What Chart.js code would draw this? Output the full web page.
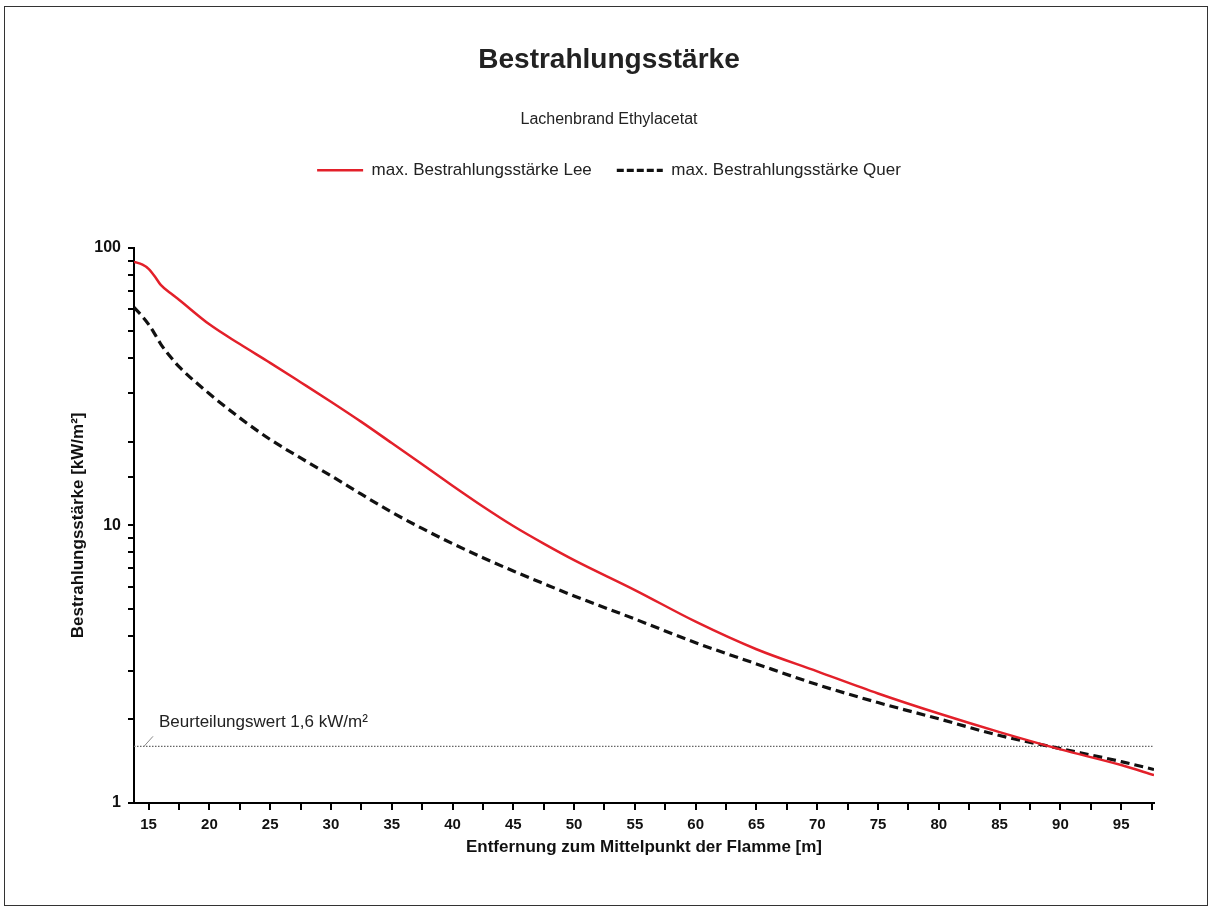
<!DOCTYPE html>
<html lang="de">
<head>
    <meta charset="UTF-8">
    <title>Bestrahlungsstärke</title>
    <style>
        body {
            margin: 0;
            background-color: #fff;
            font-family: "Liberation Sans", Arial, sans-serif;
        }
        .rahmen {
            position: absolute;
            left: 4px;
            top: 6px;
            width: 1202px;
            height: 898px;
            border: 1.5px solid #333;
            pointer-events: none;
        }
        .chart-box {
            position: absolute;
            left: 0;
            top: 0;
            width: 1213px;
            height: 911px;
        }
    </style>
    <script src="https://cdn.jsdelivr.net/npm/chart.js"></script>
</head>
<body>
    <div class="chart-box">
        <canvas id="grafik" width="1213" height="911"></canvas>
    </div>
    <div class="rahmen"></div>

    <script>
        // Entfernung [m]
        const entfernung = [13.8, 14.5, 15, 15.5, 16, 17, 17.5, 20, 22.5, 25, 27.5, 30, 32.5, 35, 37.5,
            40, 42.5, 45, 47.5, 50, 55, 60, 65, 70, 75, 80, 85, 90, 95, 97.7];
        // max. Bestrahlungsstärke Lee [kW/m²]
        const werteLee = [89, 87, 84, 79, 73.5, 67.6, 65, 53, 45, 38.5, 32.8, 27.9, 23.6, 19.8, 16.6,
            13.9, 11.7, 9.95, 8.6, 7.5, 5.85, 4.5, 3.58, 2.98, 2.48, 2.1, 1.8, 1.56, 1.37, 1.26];
        // max. Bestrahlungsstärke Quer [kW/m²]
        const werteQuer = [61, 56.5, 53, 49, 45, 39.5, 37.3, 29.8, 24.4, 20.4, 17.5, 15.1, 12.95, 11.15, 9.75,
            8.6, 7.65, 6.85, 6.17, 5.57, 4.6, 3.78, 3.17, 2.67, 2.3, 2.01, 1.75, 1.57, 1.41, 1.32];
        const beurteilungswert = 1.6;
        const xTicks = [15, 17.5, 20, 22.5, 25, 27.5, 30, 32.5, 35, 37.5, 40, 42.5, 45, 47.5, 50, 52.5,
            55, 57.5, 60, 62.5, 65, 67.5, 70, 72.5, 75, 77.5, 80, 82.5, 85, 87.5, 90, 92.5, 95, 97.5];
        const yLabels = [1, 10, 100];

        const schrift = "'Liberation Sans', Arial, sans-serif";

        const punkte = werte => entfernung.map((x, i) => ({ x: x, y: werte[i] }));

        // Abstand zwischen Legende und Diagramm
        const legendenAbstand = {
            id: 'legendenAbstand',
            beforeInit(chart) {
                const fit = chart.legend.fit;
                chart.legend.fit = function () {
                    fit.bind(chart.legend)();
                    this.height += 59;
                };
            }
        };

        // Beschriftung der Beurteilungslinie
        const beurteilungsText = {
            id: 'beurteilungsText',
            afterDatasetsDraw(chart) {
                const c = chart.ctx;
                const xs = chart.scales.x;
                const ys = chart.scales.y;
                const px = xs.getPixelForValue(xs.min);
                const py = ys.getPixelForValue(beurteilungswert);
                c.save();
                c.strokeStyle = '#888';
                c.lineWidth = 1;
                c.beginPath();
                c.moveTo(px + 10, py);
                c.lineTo(px + 19, py - 10);
                c.stroke();
                c.fillStyle = '#222';
                c.font = '17px ' + schrift;
                c.textBaseline = 'alphabetic';
                c.fillText('Beurteilungswert 1,6 kW/m²', px + 25, py - 19);
                c.restore();
            }
        };

        const ctx = document.getElementById('grafik').getContext('2d');
        new Chart(ctx, {
            type: 'line',
            data: {
                datasets: [
                    {
                        label: 'max. Bestrahlungsstärke Lee',
                        data: punkte(werteLee),
                        borderColor: '#e3202a',
                        backgroundColor: '#e3202a',
                        borderWidth: 2.5,
                        pointRadius: 0,
                        cubicInterpolationMode: 'monotone'
                    },
                    {
                        label: 'max. Bestrahlungsstärke Quer',
                        data: punkte(werteQuer),
                        borderColor: '#111',
                        backgroundColor: '#111',
                        borderWidth: 3.2,
                        borderDash: [9, 5],
                        pointRadius: 0,
                        cubicInterpolationMode: 'monotone'
                    },
                    {
                        label: 'Beurteilungswert',
                        data: [{ x: entfernung[0], y: beurteilungswert }, { x: entfernung[entfernung.length - 1], y: beurteilungswert }],
                        borderColor: '#666',
                        borderWidth: 1.2,
                        borderDash: [1.5, 1.5],
                        pointRadius: 0
                    }
                ]
            },
            options: {
                responsive: false,
                animation: false,
                layout: { padding: { top: 36, left: 64, right: 59, bottom: 48 } },
                plugins: {
                    title: {
                        display: true,
                        text: 'Bestrahlungsstärke',
                        color: '#222',
                        font: { family: schrift, size: 28, weight: 'bold' },
                        padding: { top: 7, bottom: 20 }
                    },
                    subtitle: {
                        display: true,
                        text: 'Lachenbrand Ethylacetat',
                        color: '#222',
                        font: { family: schrift, size: 16 },
                        padding: { top: 13, bottom: 8 }
                    },
                    legend: {
                        labels: {
                            usePointStyle: true,
                            pointStyle: 'line',
                            pointStyleWidth: 46,
                            color: '#222',
                            padding: 25,
                            font: { family: schrift, size: 17 },
                            generateLabels: chart => {
                                const items = Chart.defaults.plugins.legend.labels.generateLabels(chart);
                                return items.filter(item => item.datasetIndex < 2).map(item => {
                                    const ds = chart.data.datasets[item.datasetIndex];
                                    item.lineDash = item.datasetIndex === 1 ? [7, 3] : [];
                                    item.lineWidth = ds.borderWidth;
                                    item.strokeStyle = ds.borderColor;
                                    return item;
                                });
                            }
                        }
                    },
                    tooltip: { enabled: false }
                },
                scales: {
                    x: {
                        type: 'linear',
                        min: 13.8,
                        max: 97.7,
                        afterBuildTicks: axis => { axis.ticks = xTicks.map(v => ({ value: v })); },
                        afterFit: scale => { scale.height = 60; },
                        border: { color: '#000', width: 2 },
                        grid: { drawOnChartArea: false, drawTicks: true, tickLength: 7, color: '#000', lineWidth: 2 },
                        ticks: {
                            autoSkip: false,
                            maxRotation: 0,
                            padding: 6,
                            color: '#111',
                            font: { family: schrift, size: 15, weight: 'bold' },
                            callback: v => (v % 5 === 0 ? String(v) : '')
                        },
                        title: {
                            display: true,
                            text: 'Entfernung zum Mittelpunkt der Flamme [m]',
                            color: '#111',
                            font: { family: schrift, size: 17, weight: 'bold' },
                            padding: { top: 0, bottom: 5 }
                        }
                    },
                    y: {
                        type: 'logarithmic',
                        min: 1,
                        max: 100,
                        afterFit: scale => { scale.width = 70; },
                        border: { color: '#000', width: 2 },
                        grid: { drawOnChartArea: false, drawTicks: true, tickLength: 6, color: '#000', lineWidth: 2 },
                        ticks: {
                            autoSkip: false,
                            padding: 7,
                            color: '#111',
                            font: { family: schrift, size: 16, weight: 'bold' },
                            callback: v => (yLabels.includes(v) ? String(v) : '')
                        },
                        title: {
                            display: true,
                            text: 'Bestrahlungsstärke [kW/m²]',
                            color: '#111',
                            font: { family: schrift, size: 17, weight: 'bold' },
                            padding: { top: 4, bottom: 0 }
                        }
                    }
                }
            },
            plugins: [legendenAbstand, beurteilungsText]
        });
    </script>
</body>
</html>
